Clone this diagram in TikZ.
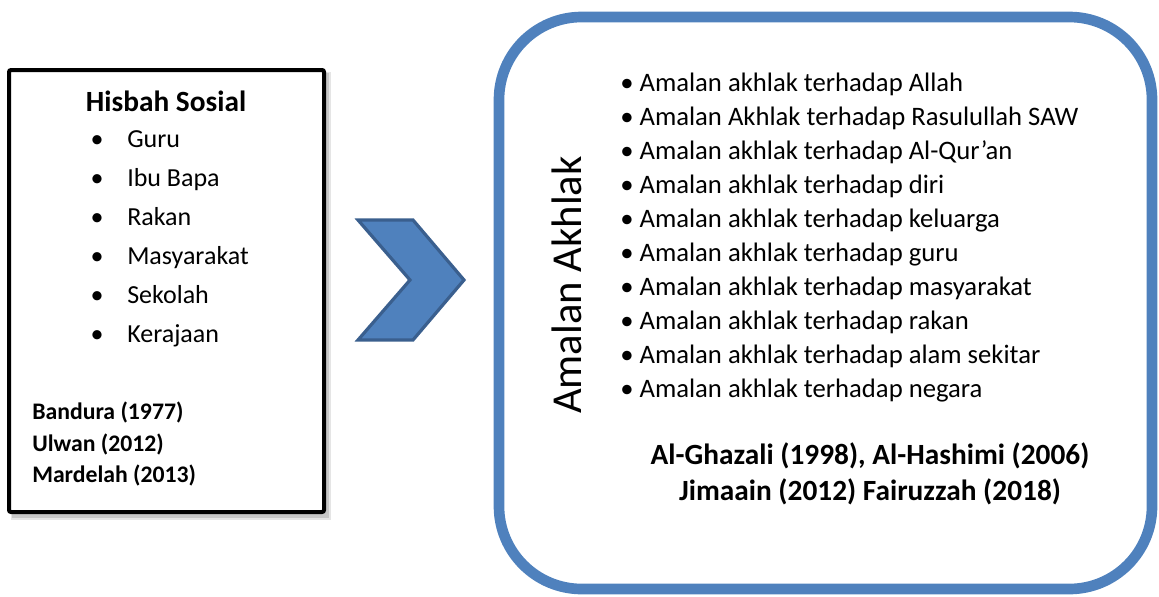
\documentclass[tikz,border=0pt]{standalone}
\usepackage{fontspec}
\setmainfont{Carlito}
\usetikzlibrary{positioning}

\definecolor{framblue}{HTML}{4F81BD}
\definecolor{chevedge}{HTML}{3A5F8E}

\tikzset{
  headtext/.style={font=\fontsize{22}{26}\selectfont\bfseries, anchor=base},
  sideitem/.style={font=\fontsize{19.5}{23}\selectfont, anchor=base west, inner sep=0pt},
  sidedot/.style={font=\fontsize{19.5}{23}\selectfont, anchor=base, inner sep=0pt},
  sideref/.style={font=\fontsize{17.8}{21}\selectfont\bfseries, anchor=base west, inner sep=0pt},
  akhlakitem/.style={font=\fontsize{20}{24}\selectfont, anchor=base west, inner sep=0pt},
  akhlakref/.style={font=\fontsize{22}{26}\selectfont\bfseries, anchor=base},
}

\begin{document}
\begin{tikzpicture}[x=0.75pt, y=-0.75pt]
\useasboundingbox (0,0) rectangle (1159,596);

% Shadow of the left box
\fill[black!10] (11,72) rectangle (331,520);
\fill[black!22] (12,73) rectangle (329,518);

% Left box
\draw[line width=3pt, fill=white, rounded corners=1.5pt] (9,70) rectangle (324,512);

% Title and items of the left box
\node[headtext] (hisbah) at (166,111) {Hisbah Sosial};
\node[sidedot] (dotguru) at (97,147.5) {\textbullet};
\node[sideitem] (guru) at (127,147.5) {Guru};
\node[sidedot] (dotibu) at (97,186.5) {\textbullet};
\node[sideitem] (ibubapa) at (127,186.5) {Ibu Bapa};
\node[sidedot] (dotrakan) at (97,225.5) {\textbullet};
\node[sideitem] (rakan) at (127,225.5) {Rakan};
\node[sidedot] (dotmasy) at (97,264.5) {\textbullet};
\node[sideitem] (masyarakat) at (127,264.5) {Masyarakat};
\node[sidedot] (dotsek) at (97,303.5) {\textbullet};
\node[sideitem] (sekolah) at (127,303.5) {Sekolah};
\node[sidedot] (dotker) at (97,342.5) {\textbullet};
\node[sideitem] (kerajaan) at (127,342.5) {Kerajaan};

% References of the left box
\node[sideref] (bandura) at (32,419) {Bandura (1977)};
\node[sideref] (ulwan) at (32,451) {Ulwan (2012)};
\node[sideref] (mardelah) at (32,482) {Mardelah (2013)};

% Chevron
\draw[line width=2.4pt, fill=framblue, draw=chevedge, line join=miter]
  (358,220) -- (413,220) -- (464,280) -- (413,340) -- (358,340) -- (410,280) -- cycle;

% Right box
\draw[line width=8pt, draw=framblue, rounded corners=62pt] (499,17) rectangle (1152,589);

% Rotated title of the right box
\node[font=\fontsize{32}{36}\selectfont, rotate=90, anchor=base] (amalan) at (581,285) {Amalan Akhlak};

% Items of the right box
\node[akhlakitem] (allah) at (620,91.5) {\textbullet\ Amalan akhlak terhadap Allah};
\node[akhlakitem] (rasul) at (620,125.5) {\textbullet\ Amalan Akhlak terhadap Rasulullah SAW};
\node[akhlakitem] (quran) at (620,159.5) {\textbullet\ Amalan akhlak terhadap Al-Qur’an};
\node[akhlakitem] (diri) at (620,193.5) {\textbullet\ Amalan akhlak terhadap diri};
\node[akhlakitem] (keluarga) at (620,227.5) {\textbullet\ Amalan akhlak terhadap keluarga};
\node[akhlakitem] (guruakh) at (620,261.5) {\textbullet\ Amalan akhlak terhadap guru};
\node[akhlakitem] (masyakh) at (620,295.5) {\textbullet\ Amalan akhlak terhadap masyarakat};
\node[akhlakitem] (rakanakh) at (620,329.5) {\textbullet\ Amalan akhlak terhadap rakan};
\node[akhlakitem] (alam) at (620,363.5) {\textbullet\ Amalan akhlak terhadap alam sekitar};
\node[akhlakitem] (negara) at (620,397.5) {\textbullet\ Amalan akhlak terhadap negara};

% References of the right box
\node[akhlakref] (ghazali) at (870,464) {Al-Ghazali (1998), Al-Hashimi (2006)};
\node[akhlakref] (jimaain) at (870,500) {Jimaain (2012) Fairuzzah (2018)};

\end{tikzpicture}
\end{document}
